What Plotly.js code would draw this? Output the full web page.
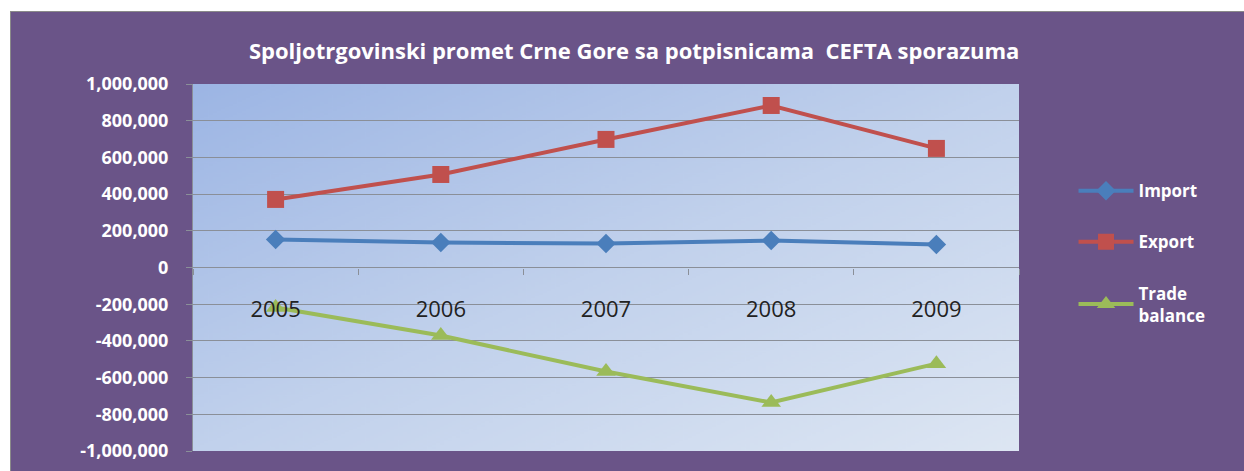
<!DOCTYPE html>
<html>
<head>
<meta charset="utf-8">
<script src="https://cdn.plot.ly/plotly-3.0.1.min.js"></script>
<style>
  html, body { margin: 0; padding: 0; background: #ffffff; }
  #chart { position: absolute; left: 10px; top: 11px; width: 1234px; height: 460px;
           border-top: 1px solid #8a8a8a; border-left: 1px solid #8a8a8a; box-sizing: border-box; }
</style>
</head>
<body>
<div id="chart"></div>
<script>
const years = ['2005', '2006', '2007', '2008', '2009'];
const importValues = [153000, 136000, 131000, 147000, 125000];
const exportValues = [371000, 507000, 698000, 883000, 649000];
const tradeBalanceValues = [-218000, -371000, -567000, -736000, -524000];
const yTickVals = [1000000, 800000, 600000, 400000, 200000, 0, -200000, -400000, -600000, -800000, -1000000];
const yTickText = ['1,000,000', '800,000', '600,000', '400,000', '200,000', '0', '-200,000', '-400,000', '-600,000', '-800,000', '-1,000,000'];
const seriesNames = ['Import', 'Export', 'Trade<br>balance'];
const titleText = 'Spoljotrgovinski promet Crne Gore sa potpisnicama  CEFTA sporazuma';

// gradient background for plot area
const cv = document.createElement('canvas');
cv.width = 400; cv.height = 400;
const ctx = cv.getContext('2d');
const g = ctx.createLinearGradient(0, 0, 400, 400);
g.addColorStop(0, '#9cb5e4');
g.addColorStop(0.5, '#c1d1ec');
g.addColorStop(1, '#dde6f3');
ctx.fillStyle = g;
ctx.fillRect(0, 0, 400, 400);
const bgURL = cv.toDataURL('image/png');

const fontFam = 'Open Sans, Liberation Sans, sans-serif';

const traces = [
  { x: years, y: importValues, name: seriesNames[0], type: 'scatter', mode: 'lines+markers',
    legendgroup: 'a',
    line: { color: '#4a7ebb', width: 4 },
    marker: { symbol: 'diamond', size: 15, color: '#4a7ebb' } },
  { x: years, y: exportValues, name: seriesNames[1], type: 'scatter', mode: 'lines+markers',
    legendgroup: 'b',
    line: { color: '#c0504d', width: 4 },
    marker: { symbol: 'square', size: 17, color: '#c0504d' } },
  { x: years, y: tradeBalanceValues, name: seriesNames[2], type: 'scatter', mode: 'lines+markers',
    legendgroup: 'c',
    line: { color: '#9bbb59', width: 4 },
    marker: { symbol: 'triangle-up', size: 17, color: '#9bbb59' } }
];

const layout = {
  width: 1234, height: 460,
  paper_bgcolor: '#6a5488',
  plot_bgcolor: 'rgba(0,0,0,0)',
  margin: { l: 182, r: 226, t: 72, b: 21 },
  title: { text: '<b>' + titleText + '</b>', x: 0.505, xref: 'container', xanchor: 'center',
           y: 0.915, yanchor: 'middle',
           font: { family: fontFam, size: 22, color: '#ffffff' } },
  images: [{ source: bgURL, xref: 'paper', yref: 'paper', x: 0, y: 1, sizex: 1, sizey: 1,
             sizing: 'stretch', layer: 'below' }],
  xaxis: {
    type: 'category', anchor: 'free', position: 0.5,
    showgrid: false, showline: false, zeroline: false,
    ticks: 'outside', tickson: 'boundaries', ticklen: 6, tickcolor: '#8a8f98',
    ticklabelstandoff: 26,
    tickfont: { family: 'Open Sans, sans-serif', size: 22, color: '#222222' },
    range: [-0.5, 4.5], fixedrange: true
  },
  yaxis: {
    range: [-1000000, 1000000],
    tickvals: yTickVals, ticktext: yTickText,
    showgrid: true, gridcolor: '#8a8f98', gridwidth: 1,
    zeroline: true, zerolinecolor: '#8a8f98', zerolinewidth: 1,
    showline: true, linecolor: '#8a8f98', linewidth: 1,
    ticks: 'outside', ticklen: 6, tickcolor: '#8a8f98',
    ticklabelstandoff: 14,
    tickfont: { family: fontFam, size: 18, color: '#ffffff', weight: 'bold' },
    fixedrange: true
  },
  showlegend: true,
  legend: {
    x: 1.066, xanchor: 'left', y: 0.757, yanchor: 'top',
    bgcolor: 'rgba(0,0,0,0)',
    traceorder: 'grouped', tracegroupgap: 26,
    itemwidth: 55,
    font: { family: fontFam, size: 17, color: '#ffffff', weight: 'bold' }
  }
};

Plotly.newPlot('chart', traces, layout, { displayModeBar: false, staticPlot: true });
</script>
</body>
</html>
